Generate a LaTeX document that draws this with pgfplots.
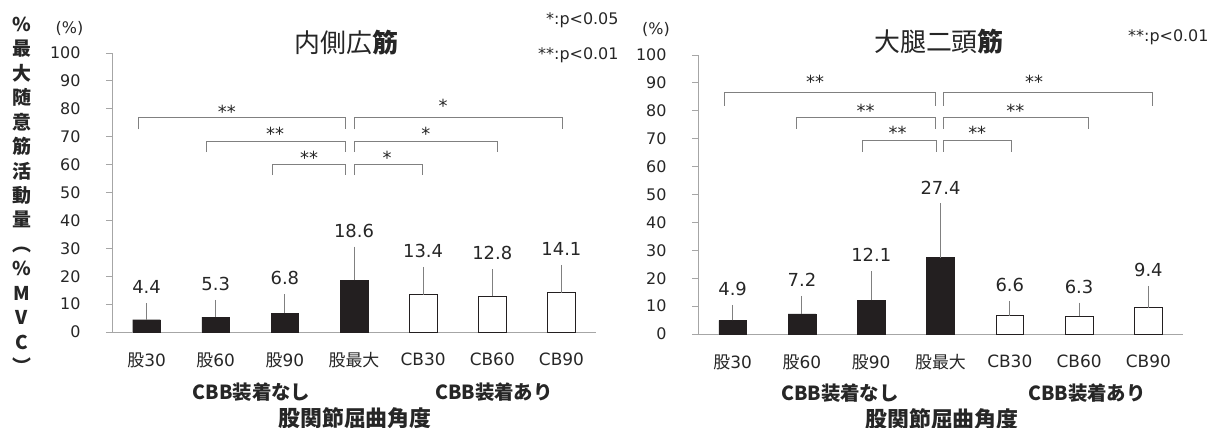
\documentclass[border=0pt]{standalone}
\usepackage{fontspec}
\setmainfont{DejaVu Sans}
\newfontfamily\jp{Noto Sans CJK JP}
\usepackage{pgfplots}
\pgfplotsset{compat=1.18}
\usepackage{pgfplotstable}

\definecolor{barblack}{HTML}{231F20}
\definecolor{axgray}{HTML}{A6A6A6}
\definecolor{brgray}{HTML}{808080}
\definecolor{txt}{HTML}{262626}

% left: vastus medialis
\pgfplotstableread{
x mean sd
0 4.4 4.8
1 5.3 5.1
2 6.8 5.7
3 18.6 10.9
}\LeftBlack
\pgfplotstableread{
x mean sd
4 13.4 8.9
5 12.8 8.6
6 14.1 8.9
}\LeftWhite
\pgfplotstableread{
x top val
0 9.2 4.4
1 10.4 5.3
2 12.5 6.8
3 29.5 18.6
4 22.3 13.4
5 21.4 12.8
6 23.0 14.1
}\LeftLab
% right: biceps femoris
\pgfplotstableread{
x mean sd
0 4.9 4.5
1 7.2 5.4
2 12.1 9.3
3 27.4 18.3
}\RightBlack
\pgfplotstableread{
x mean sd
4 6.6 4.2
5 6.3 3.9
6 9.4 6.8
}\RightWhite
\pgfplotstableread{
x top val
0 9.4 4.9
1 12.6 7.2
2 21.4 12.1
3 45.7 27.4
4 10.8 6.6
5 10.2 6.3
6 16.2 9.4
}\RightLab

\newcommand{\fs}[1]{\fontsize{#1}{#1}\selectfont}

\tikzset{
  br/.style={brgray, line width=0.9bp},
  st/.style={font=\fs{18}, text=txt, yshift=-4bp, inner sep=0pt},
}

\pgfplotsset{
  emg/.style={
    scale only axis, clip=false,
    xmin=-0.5, xmax=6.5, ymin=0, ymax=100,
    axis x line*=bottom, axis y line*=left,
    axis line style={axgray, line width=0.9bp, -},
    xtick={0,...,6},
    xticklabels={{\jp 股}30,{\jp 股}60,{\jp 股}90,{\jp 股最大},CB30,CB60,CB90},
    xtick style={draw=none},
    minor xtick={-0.5,0.5,...,6.5},
    minor x tick style={axgray, line width=0.9bp},
    minor tick length=7bp,
    ytick={0,10,...,100},
    ytick style={axgray, line width=0.9bp},
    major tick length=6bp,
    tick align=outside,
    /pgf/number format/assume math mode=true,
    yticklabel style={font=\fs{16}, text=txt, xshift=-22bp},
    xticklabel style={font=\fs{17}, text=txt, yshift=-11bp},
  },
  blackbars/.style={ybar, bar shift=0pt, bar width=0.4, fill=barblack, draw=barblack,
    error bars/.cd, y dir=plus, y explicit,
    error bar style={brgray, line width=0.9bp},
    error mark options={brgray, line width=0.9bp, mark size=3bp}},
  whitebars/.style={ybar, bar shift=0pt, bar width=0.4, fill=white, draw=barblack, line width=0.8bp,
    error bars/.cd, y dir=plus, y explicit,
    error bar style={brgray, line width=0.9bp},
    error mark options={brgray, line width=0.9bp, mark size=3bp}},
  vallabels/.style={draw=none, mark=none, point meta=explicit,
    nodes near coords={\pgfmathprintnumber[fixed,precision=1,fixed zerofill]{\pgfplotspointmeta}},
    every node near coord/.append style={anchor=center, yshift=19bp, font=\fs{18}, text=txt,
      /pgf/number format/assume math mode=true}},
}

\begin{document}
\begin{tikzpicture}
\path[use as bounding box] (0,0) rectangle (1223bp,428bp);

% ---------------- left panel ----------------
\begin{axis}[emg, width=484bp, height=279bp, at={(112bp,96bp)}, anchor=south west]
\addplot[blackbars] table[x=x, y=mean, y error=sd] {\LeftBlack};
\addplot[whitebars] table[x=x, y=mean, y error=sd] {\LeftWhite};
\addplot[vallabels] table[x=x, y=top, meta=val] {\LeftLab};
% brackets
\draw[br] (axis cs:-0.12,72.6) |- (axis cs:2.88,76.8) -- (axis cs:2.88,72.6);
\draw[br] (axis cs:0.87,64.5) |- (axis cs:2.88,68.3) -- (axis cs:2.88,64.5);
\draw[br] (axis cs:1.82,56.2) |- (axis cs:2.88,60.0) -- (axis cs:2.88,56.2);
\draw[br] (axis cs:3.0,72.6) |- (axis cs:6.01,76.8) -- (axis cs:6.01,72.6);
\draw[br] (axis cs:3.0,64.5) |- (axis cs:5.08,68.3) -- (axis cs:5.08,64.5);
\draw[br] (axis cs:3.0,56.2) |- (axis cs:3.99,60.0) -- (axis cs:3.99,56.2);
\node[st] at (axis cs:1.16,80.3) {**};
\node[st] at (axis cs:1.86,72.3) {**};
\node[st] at (axis cs:2.35,63.9) {**};
\node[st] at (axis cs:4.29,82.4) {*};
\node[st] at (axis cs:4.04,72.3) {*};
\node[st] at (axis cs:3.48,63.9) {*};
\end{axis}

% ---------------- right panel ----------------
\begin{axis}[emg, width=485bp, height=279bp, at={(698bp,94bp)}, anchor=south west]
\addplot[blackbars] table[x=x, y=mean, y error=sd] {\RightBlack};
\addplot[whitebars] table[x=x, y=mean, y error=sd] {\RightWhite};
\addplot[vallabels] table[x=x, y=top, meta=val] {\RightLab};
\draw[br] (axis cs:-0.12,81.8) |- (axis cs:2.92,86.6) -- (axis cs:2.92,81.8);
\draw[br] (axis cs:0.92,73.6) |- (axis cs:2.93,77.6) -- (axis cs:2.93,73.6);
\draw[br] (axis cs:1.87,65.3) |- (axis cs:2.94,69.4) -- (axis cs:2.94,65.3);
\draw[br] (axis cs:3.04,81.8) |- (axis cs:6.06,86.6) -- (axis cs:6.06,81.8);
\draw[br] (axis cs:3.04,73.6) |- (axis cs:5.13,77.6) -- (axis cs:5.13,73.6);
\draw[br] (axis cs:3.04,65.3) |- (axis cs:4.02,69.4) -- (axis cs:4.02,65.3);
\node[st] at (axis cs:1.19,91.7) {**};
\node[st] at (axis cs:1.92,81.5) {**};
\node[st] at (axis cs:2.38,73.4) {**};
\node[st] at (axis cs:4.35,91.7) {**};
\node[st] at (axis cs:4.08,81.5) {**};
\node[st] at (axis cs:3.53,73.4) {**};
\end{axis}

% ---------------- free text ----------------
\node[anchor=north, align=center, font={\jp\fs{19}\bfseries}, text=txt, inner sep=0pt]
  at (22bp,411bp) {\%\\[5.5bp]最\\[5.5bp]大\\[5.5bp]随\\[5.5bp]意\\[5.5bp]筋\\[5.5bp]活\\[5.5bp]動\\[5.5bp]量\\[5.5bp]︵\\[5.5bp]\%\\[5.5bp]M\\[5.5bp]V\\[5.5bp]C\\[5.5bp]︶};
\node[font=\fs{16}, text=txt] at (69.5bp,399bp) {(\%)};
\node[font=\fs{16}, text=txt] at (656bp,398bp) {(\%)};

\node[font={\jp\fs{26}}, text=txt] at (346.5bp,385bp) {内側広\textbf{筋}};
\node[font={\jp\fs{26}}, text=txt] at (939bp,386bp) {大腿二頭\textbf{筋}};

\node[anchor=east, font=\fs{16}, text=txt] at (622bp,408bp) {*:p<0.05};
\node[anchor=east, font=\fs{16}, text=txt] at (622bp,373bp) {**:p<0.01};
\node[anchor=east, font=\fs{16}, text=txt] at (1212bp,391bp) {**:p<0.01};

\node[font={\jp\fs{19.5}\bfseries}, text=txt] at (251.5bp,36bp) {CBB装着なし};
\node[font={\jp\fs{19.5}\bfseries}, text=txt] at (494bp,36bp) {CBB装着あり};
\node[font={\jp\fs{22}\bfseries}, text=txt] at (355bp,10bp) {股関節屈曲角度};
\node[font={\jp\fs{19.5}\bfseries}, text=txt] at (840bp,35bp) {CBB装着なし};
\node[font={\jp\fs{19.5}\bfseries}, text=txt] at (1087bp,35bp) {CBB装着あり};
\node[font={\jp\fs{22}\bfseries}, text=txt] at (942bp,9bp) {股関節屈曲角度};
\end{tikzpicture}
\end{document}
